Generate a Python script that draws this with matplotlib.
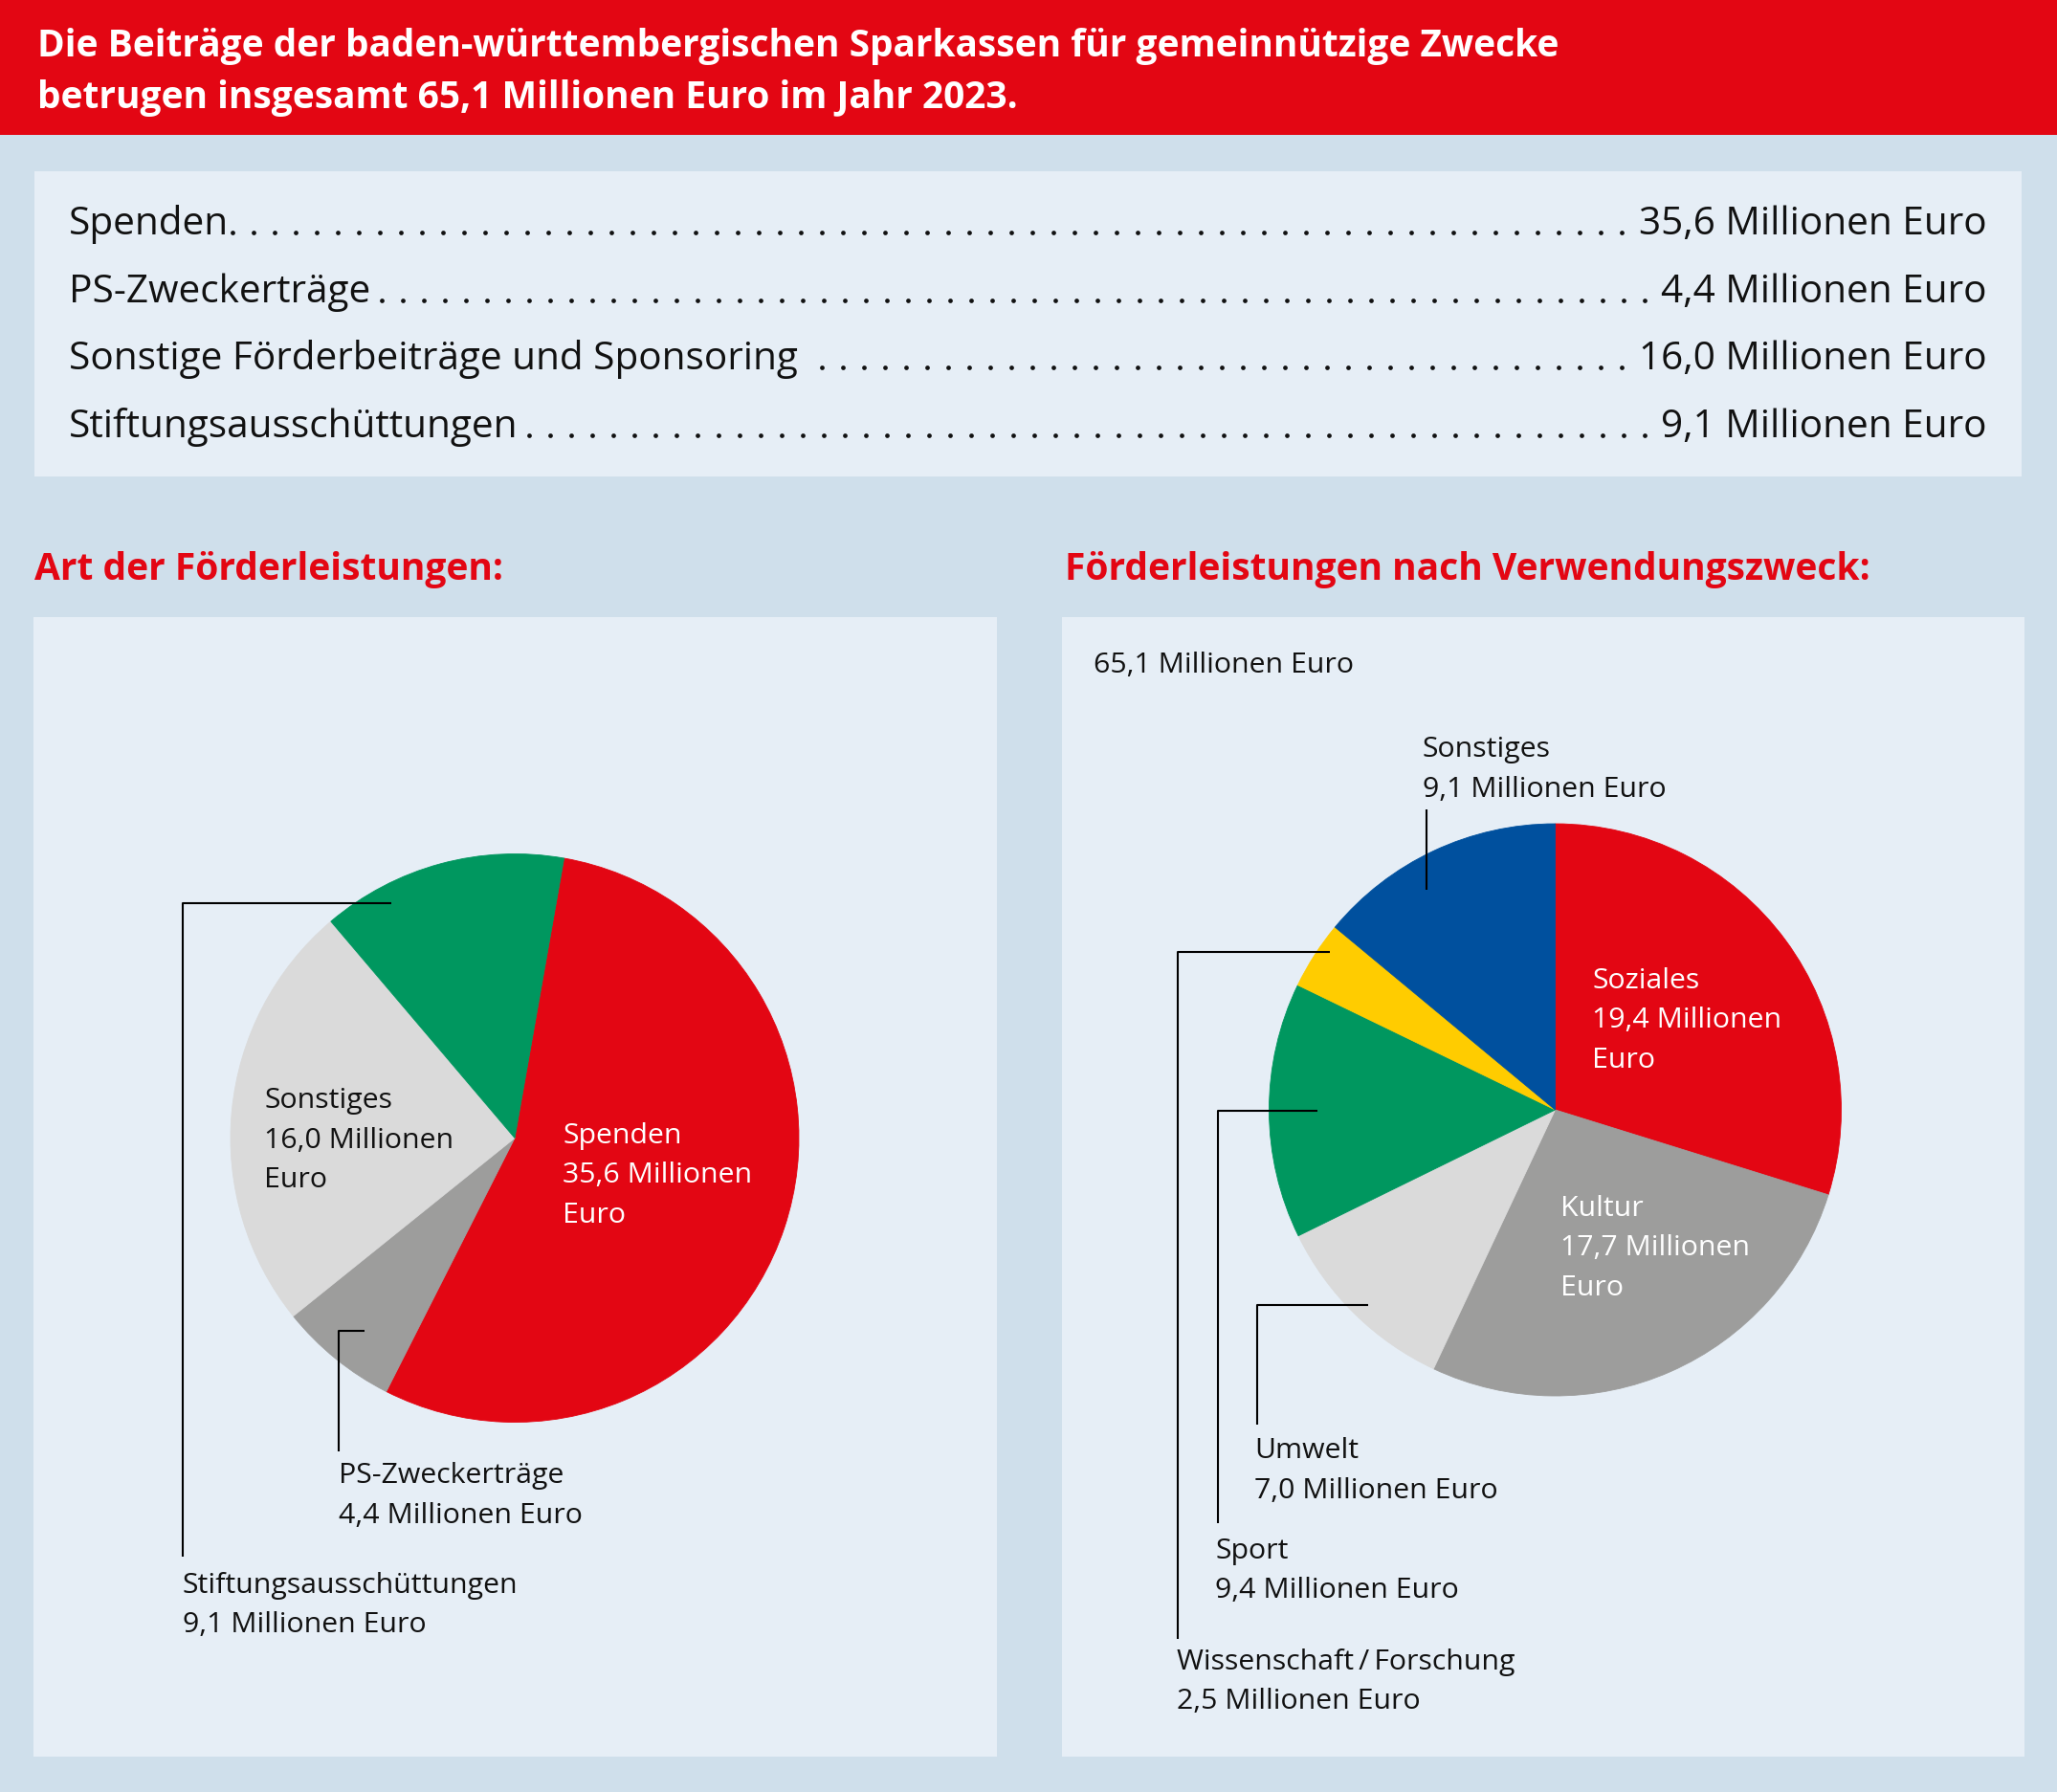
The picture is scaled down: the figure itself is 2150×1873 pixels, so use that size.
import numpy as np
import matplotlib
matplotlib.use("Agg")
import matplotlib.pyplot as plt
from matplotlib.patches import Rectangle

# ---------------- data ----------------
title_lines = ["Die Beiträge der baden-württembergischen Sparkassen für gemeinnützige Zwecke",
               "betrugen insgesamt 65,1 Millionen Euro im Jahr 2023."]
total_value = 65.1

art_names = ["Spenden", "PS-Zweckerträge", "Sonstige Förderbeiträge und Sponsoring", "Stiftungsausschüttungen"]
art_values = [35.6, 4.4, 16.0, 9.1]
art_pie_labels = ["Spenden", "PS-Zweckerträge", "Sonstiges", "Stiftungsausschüttungen"]

zweck_names = ["Soziales", "Kultur", "Umwelt", "Sport", "Wissenschaft\u2009/\u2009Forschung", "Sonstiges"]
zweck_values = [19.4, 17.7, 7.0, 9.4, 2.5, 9.1]

section_titles = ["Art der Förderleistungen:", "Förderleistungen nach Verwendungszweck:"]

# ---------------- style ----------------
RED = "#e30613"
GREEN = "#00975f"
LGRAY = "#dadada"
MGRAY = "#9d9d9c"
BLUE = "#00509e"
YELLOW = "#ffcc00"
BG = "#cfdfeb"
PANEL = "#e6eef6"
TXT = "#111111"
FAM = ["Open Sans", "DejaVu Sans"]

art_colors = [RED, MGRAY, LGRAY, GREEN]
zweck_colors = [RED, MGRAY, LGRAY, GREEN, YELLOW, BLUE]

W, H = 2150, 1873


def Y(y):
    return H - y


def fmt(v):
    return f"{v:.1f}".replace(".", ",")


fig = plt.figure(figsize=(W / 100, H / 100), dpi=100)
fig.patch.set_facecolor(BG)
ax = fig.add_axes([0, 0, 1, 1])
ax.axis("off")

# ---------------- pies ----------------
w1, _ = ax.pie(art_values, colors=art_colors, startangle=80.0, counterclock=False,
               radius=297, center=(538, Y(1189.5)),
               wedgeprops=dict(linewidth=0.6, zorder=3))
w2, _ = ax.pie(zweck_values, colors=zweck_colors, startangle=90, counterclock=False,
               radius=299, center=(1625.5, Y(1160)),
               wedgeprops=dict(linewidth=0.6, zorder=3))
for w in list(w1) + list(w2):
    w.set_edgecolor(w.get_facecolor())

ax.set_aspect("auto")
ax.set_xlim(0, W)
ax.set_ylim(0, H)
ax.axis("off")

# ---------------- background boxes ----------------
ax.add_patch(Rectangle((0, Y(141)), W, 141, facecolor=RED, edgecolor="none", zorder=1))
ax.add_patch(Rectangle((36, Y(498)), 2113 - 36, 498 - 179, facecolor=PANEL, edgecolor="none", zorder=1))
ax.add_patch(Rectangle((35, Y(1836)), 1042 - 35, 1836 - 645, facecolor=PANEL, edgecolor="none", zorder=1))
ax.add_patch(Rectangle((1110, Y(1836)), 2116 - 1110, 1836 - 645, facecolor=PANEL, edgecolor="none", zorder=1))

renderer = fig.canvas.get_renderer()


def fit_size(text, target_w, weight="normal", base=20.0):
    t = ax.text(0, 0, text, fontsize=base, family=FAM, weight=weight)
    w = t.get_window_extent(renderer).width
    t.remove()
    return base * target_w / w


fs_title = fit_size(title_lines[0], 1593, "bold")
fs_section = fit_size(section_titles[0], 491, "bold")
fs_list = fit_size(art_names[2], 760)
fs_lab = fit_size("Stiftungsausschüttungen", 350)

# ---------------- header ----------------
for line, yb in zip(title_lines, [59, 113]):
    ax.text(39, Y(yb), line, color="white", fontsize=fs_title, weight="bold",
            family=FAM, va="baseline", ha="left", zorder=5)

# ---------------- list with dotted leaders ----------------
list_baselines = [245, 316, 386, 457]
x_left, x_right = 72, 2077
dot_step = 22
for name, val, yb in zip(art_names, art_values, list_baselines):
    t1 = ax.text(x_left, Y(yb), name, color=TXT, fontsize=fs_list, family=FAM,
                 va="baseline", ha="left", zorder=5)
    t2 = ax.text(x_right, Y(yb), f"{fmt(val)} Millionen Euro", color=TXT, fontsize=fs_list,
                 family=FAM, va="baseline", ha="right", zorder=5)
    e1 = t1.get_window_extent(renderer)
    e2 = t2.get_window_extent(renderer)
    x0 = e1.x1 + 4
    x1 = e2.x0 - 18
    n = int(np.floor((x1 - x0) / dot_step))
    xs = x1 - dot_step * np.arange(n + 1)
    ax.plot(xs, np.full(len(xs), Y(yb) + 2.5), "o", ms=3.4, color=TXT, mew=0, zorder=5)

# ---------------- section titles ----------------
ax.text(36, Y(606), section_titles[0], color=RED, fontsize=fs_section, weight="bold",
        family=FAM, va="baseline", ha="left", zorder=5)
ax.text(1113, Y(606), section_titles[1], color=RED, fontsize=fs_section, weight="bold",
        family=FAM, va="baseline", ha="left", zorder=5)

LS = 41.5


def label(x, yb, lines, color=TXT):
    for i, s in enumerate(lines):
        ax.text(x, Y(yb + i * LS), s, color=color, fontsize=fs_lab, family=FAM,
                va="baseline", ha="left", zorder=6)


def inside(name, v):
    return [name, f"{fmt(v)} Millionen", "Euro"]


def outside(name, v):
    return [name, f"{fmt(v)} Millionen Euro"]


def leader(pts):
    xs = [p[0] for p in pts]
    ys = [Y(p[1]) for p in pts]
    ax.plot(xs, ys, color="black", lw=1.5, zorder=6, solid_capstyle="butt")


# left pie labels
label(588, 1195, inside(art_pie_labels[0], art_values[0]), "white")
label(276, 1158, inside(art_pie_labels[2], art_values[2]))
label(354, 1550, outside(art_pie_labels[1], art_values[1]))
label(191, 1665, outside(art_pie_labels[3], art_values[3]))
leader([(409, 943.5), (191, 943.5), (191, 1627)])
leader([(381, 1390.5), (354, 1390.5), (354, 1517)])

# right pie labels
label(1143, 703, [f"{fmt(total_value)} Millionen Euro"])
label(1664, 1033, inside(zweck_names[0], zweck_values[0]), "white")
label(1631, 1271, inside(zweck_names[1], zweck_values[1]), "white")
label(1311, 1524, outside(zweck_names[2], zweck_values[2]))
label(1270, 1629, outside(zweck_names[3], zweck_values[3]))
label(1230, 1745, outside(zweck_names[4], zweck_values[4]))
label(1487, 791, outside(zweck_names[5], zweck_values[5]))
leader([(1491, 846), (1491, 930)])
leader([(1390, 994.5), (1231, 994.5), (1231, 1713)])
leader([(1377, 1161), (1273, 1161), (1273, 1592)])
leader([(1430, 1364), (1314, 1364), (1314, 1489)])

fig.savefig("out.png", dpi=100, facecolor=BG)
